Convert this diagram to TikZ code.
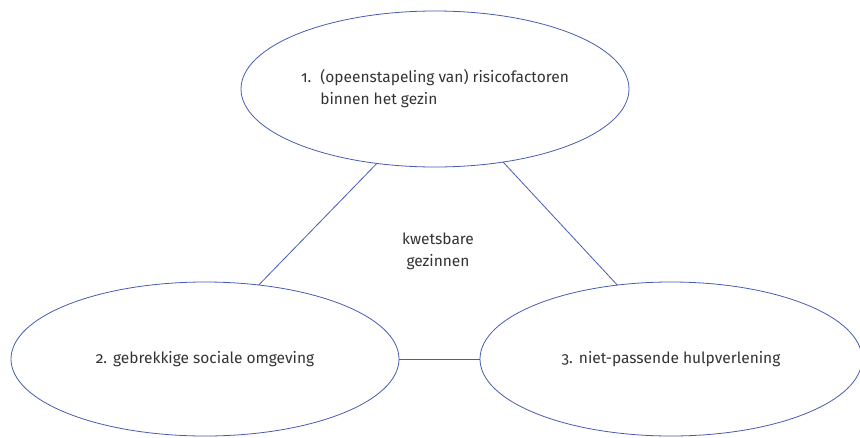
\documentclass[tikz,border=0pt]{standalone}
\usepackage{fontspec}
\setmainfont{Fira Sans}[Numbers=OldStyle]
\usepackage{tikz}
\usetikzlibrary{shapes.geometric}
\definecolor{ringblue}{RGB}{72,90,178}
\definecolor{inkgray}{RGB}{51,51,51}

\begin{document}
\begin{tikzpicture}[x=1pt,y=1pt,
    factor/.style={ellipse, draw=ringblue, line width=0.8pt, inner sep=0pt, outer sep=0pt, text=inkgray},
    link/.style={draw=ringblue, line width=0.8pt}]
      \useasboundingbox (0,0) rectangle (860,-437);
      \fontsize{15.5}{22}\selectfont
      \node[factor, minimum width=388, minimum height=156] (gezin) at (435,-89)
        {\begin{tabular}{@{}l@{\hspace{9pt}}l@{}}1. & (opeenstapeling van) risicofactoren\\ & binnen het gezin\end{tabular}};
      \node[factor, minimum width=388, minimum height=154] (omgeving) at (205,-359) {2.\hspace{6pt}gebrekkige sociale omgeving};
      \node[factor, minimum width=382, minimum height=154] (hulp) at (671,-359) {3.\hspace{6pt}niet-passende hulpverlening};
      \node[text=inkgray, align=center] (kern) at (438,-251) {kwetsbare\\gezinnen};
      \draw[link] (gezin.232) -- (omgeving.54);
      \draw[link] (gezin.313) -- (hulp.126);
      \draw[link] (omgeving.east) -- (hulp.west);
\end{tikzpicture}
\end{document}
